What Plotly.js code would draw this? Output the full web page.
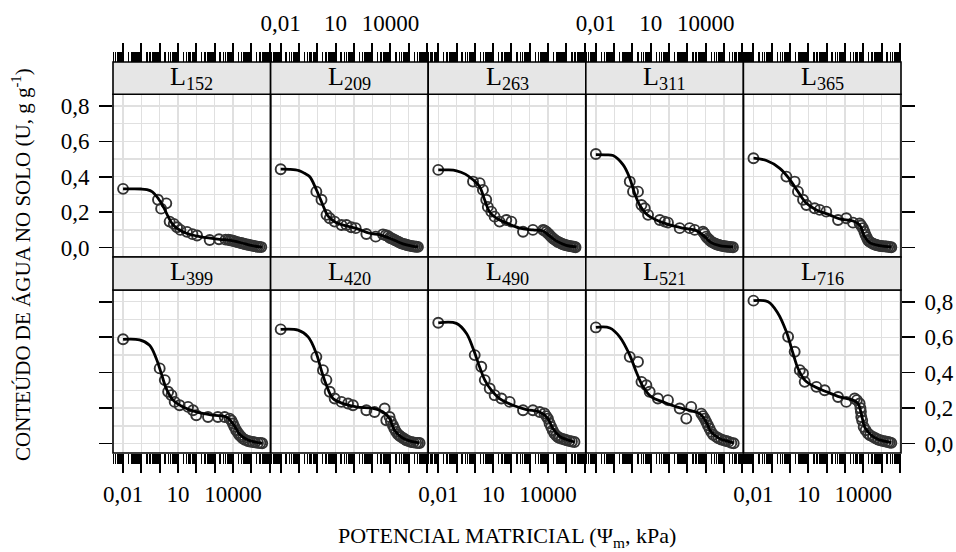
<!DOCTYPE html>
<html><head><meta charset="utf-8">
<script src="https://cdn.plot.ly/plotly-3.0.1.min.js"></script>
<style>body{margin:0;background:#fff}#chart{width:956px;height:552px}</style>
</head><body><div id="chart"></div>
<script>
// ---------- data (h in kPa, U in g g-1) ----------
const panelNames = ['152','209','263','311','365','399','420','490','521','716'];

const H1 = [0.01,0.81,2.3,1.2,3.5,5.9,8.9,13.5,31,62,110,540,1740,3980,5620,7080,8910,11200,14100,17800,22400,28200,35500,44700,56200,70800,89100,112000,141000,178000,224000,282000,355000];
const U1 = [0.332,0.27,0.25,0.22,0.147,0.134,0.115,0.10,0.089,0.076,0.068,0.043,0.047,0.045,0.044,0.042,0.040,0.037,0.034,0.031,0.028,0.026,0.023,0.020,0.018,0.016,0.013,0.011,0.009,0.007,0.005,0.004,0.003];
const CH1 = [0.01,0.0316,0.1,0.2,0.4,0.8,1.6,2.9,5.4,10,29,155,1900,5000,12000,31600,100000,316000,400000];
const CU1 = [0.332,0.332,0.331,0.327,0.315,0.28,0.23,0.175,0.128,0.105,0.081,0.062,0.047,0.044,0.037,0.026,0.012,0.004,0.003];

const H2 = [0.01,0.89,1.7,3.2,4.8,8.9,21,39,72,126,480,1550,3890,5500,7240,9100,11000,13800,17000,21000,25700,31600,38900,47900,58900,72400,89100,110000,138000,170000,209000,257000,316000];
const U2 = [0.443,0.316,0.27,0.185,0.166,0.147,0.128,0.128,0.115,0.11,0.077,0.062,0.075,0.07,0.066,0.056,0.053,0.048,0.043,0.038,0.034,0.029,0.024,0.021,0.019,0.016,0.013,0.011,0.009,0.007,0.006,0.005,0.004];
const CH2 = [0.01,0.0316,0.1,0.2,0.39,0.89,2.0,3.8,11,135,720,2570,9100,48000,150000,316000];
const CU2 = [0.443,0.442,0.435,0.42,0.40,0.327,0.241,0.179,0.141,0.109,0.081,0.072,0.053,0.021,0.009,0.004];

const H3 = [0.01,0.79,1.82,2.75,4.17,5.1,7.9,12,22.4,52,98,427,1480,5250,6300,7940,10000,12000,14500,18200,22400,28200,34700,42700,52500,64600,79400,97700,120000,148000,182000,224000,275000,316000];
const U3 = [0.439,0.373,0.364,0.326,0.27,0.23,0.203,0.175,0.147,0.156,0.147,0.09,0.10,0.10,0.097,0.09,0.08,0.072,0.062,0.053,0.045,0.038,0.032,0.028,0.023,0.019,0.016,0.013,0.011,0.009,0.007,0.006,0.004,0.002];
const CH3 = [0.01,0.0316,0.1,0.3,0.79,1.8,3.4,6.3,14.8,52,280,1480,5250,12000,28000,98000,350000];
const CU3 = [0.439,0.439,0.434,0.415,0.383,0.345,0.27,0.203,0.166,0.14,0.11,0.10,0.094,0.066,0.038,0.013,0.004];

const H4 = [0.01,0.71,1.07,2.0,3.1,4.7,7.1,31,57.5,87,380,1320,2510,7080,8500,10700,13000,16200,20000,25100,31600,38000,47000,57500,70800,87100,107000,132000,162000,200000,245000,309000];
const U4 = [0.529,0.373,0.316,0.316,0.241,0.222,0.185,0.156,0.147,0.141,0.11,0.11,0.10,0.09,0.08,0.062,0.052,0.043,0.034,0.028,0.023,0.019,0.016,0.013,0.011,0.009,0.008,0.006,0.005,0.004,0.003,0.002];
const CH4 = [0.01,0.0316,0.087,0.31,0.71,1.3,2.45,5.75,20,107,575,3090,8700,20000,57500,310000];
const CU4 = [0.525,0.524,0.52,0.467,0.392,0.307,0.241,0.19,0.156,0.128,0.11,0.096,0.062,0.028,0.011,0.004];

const H5 = [0.01,0.63,1.78,2.7,5.1,7.8,21.9,41.7,95,417,1170,2750,6310,7600,9550,11500,13200,15500,17800,21400,26900,33900,42700,51300,66100,81300,95500,120000,155000,178000,229000,288000,339000];
const U5 = [0.505,0.401,0.373,0.316,0.27,0.241,0.222,0.213,0.203,0.156,0.166,0.141,0.136,0.125,0.11,0.09,0.072,0.058,0.043,0.034,0.028,0.022,0.018,0.015,0.012,0.01,0.009,0.008,0.007,0.006,0.005,0.003,0.002];
const CH5 = [0.01,0.051,0.275,0.95,2.7,7.8,27.5,145,510,2750,6300,11700,22400,77600,340000];
const CU5 = [0.505,0.492,0.448,0.386,0.316,0.25,0.213,0.185,0.162,0.15,0.128,0.062,0.028,0.011,0.004];

const H6 = [0.01,1.0,1.9,2.9,4.4,6.6,12.3,35.5,66,100,437,1510,3550,6600,8300,10000,12000,15100,19000,23400,28800,35500,45700,66100,85000,123000,162000,234000,316000,398000];
const U6 = [0.588,0.424,0.358,0.292,0.273,0.235,0.216,0.207,0.188,0.16,0.15,0.15,0.15,0.141,0.13,0.113,0.095,0.075,0.06,0.047,0.038,0.028,0.022,0.015,0.012,0.009,0.007,0.004,0.003,0.002];
const CH6 = [0.01,0.079,0.28,0.65,1.23,2.3,5.4,19,100,810,4370,10000,23400,66000,400000];
const CU6 = [0.588,0.585,0.555,0.48,0.395,0.31,0.245,0.207,0.179,0.16,0.15,0.113,0.053,0.02,0.002];

const H7 = [0.01,0.89,2.04,3.16,4.8,8.9,20.9,47.9,89,479,1350,4790,5890,8900,10500,13500,16200,20400,25700,31600,38000,50100,60300,72400,97700,135000,180000,251000,316000,389000];
const U7 = [0.644,0.489,0.414,0.358,0.292,0.254,0.235,0.226,0.216,0.188,0.178,0.198,0.132,0.15,0.125,0.103,0.085,0.066,0.052,0.044,0.038,0.03,0.025,0.019,0.014,0.009,0.007,0.004,0.004,0.003];
const CH7 = [0.01,0.089,0.316,0.89,1.66,3.16,7.2,25.7,135,1100,3900,8900,16600,39000,110000,390000];
const CU7 = [0.644,0.64,0.602,0.508,0.414,0.329,0.254,0.226,0.207,0.198,0.178,0.141,0.075,0.037,0.015,0.004];

const H8 = [0.01,0.98,2.24,3.47,6.46,12,28.2,79.4,427,1480,3470,6310,7900,9800,12000,14800,17800,22400,28200,35500,42700,56200,79400,105000,148000,200000,275000];
const U8 = [0.681,0.499,0.433,0.358,0.311,0.273,0.254,0.235,0.188,0.188,0.178,0.17,0.155,0.141,0.115,0.094,0.075,0.056,0.045,0.036,0.032,0.027,0.023,0.019,0.015,0.012,0.009];
const CH8 = [0.01,0.098,0.35,0.79,1.8,3.5,7.9,22.4,120,650,3470,9800,18200,42700,98000,282000];
const CU8 = [0.681,0.678,0.621,0.537,0.433,0.358,0.301,0.254,0.216,0.192,0.178,0.141,0.085,0.041,0.023,0.009];

const H9 = [0.01,0.71,2.0,3.1,5.75,8.7,24.5,87,380,870,1620,5750,7100,8700,10700,13200,16200,20000,25700,38000,50100,70800,100000,132000,178000,251000,339000];
const U9 = [0.655,0.489,0.461,0.348,0.329,0.292,0.254,0.245,0.198,0.141,0.207,0.169,0.155,0.141,0.122,0.103,0.085,0.066,0.05,0.038,0.03,0.023,0.018,0.015,0.011,0.004,0.002];
const CH9 = [0.01,0.058,0.2,0.71,1.6,3.8,10.7,47,250,1320,4700,10700,20000,57500,162000,340000];
const CU9 = [0.655,0.652,0.602,0.499,0.405,0.32,0.263,0.235,0.207,0.188,0.169,0.122,0.066,0.028,0.013,0.004];

const H10 = [0.01,0.78,1.78,3.4,5.1,6.3,27.5,77.6,417,1170,3390,4470,6310,7000,7400,7760,8700,10500,13500,18200,23400,33900,46800,63100,85100,120000,166000,224000,275000,339000];
const U10 = [0.806,0.602,0.518,0.414,0.395,0.348,0.32,0.301,0.263,0.235,0.254,0.245,0.226,0.2,0.18,0.15,0.13,0.094,0.075,0.056,0.047,0.038,0.03,0.023,0.019,0.015,0.012,0.009,0.006,0.004];
const CH10 = [0.01,0.063,0.22,0.63,1.45,2.7,6.3,22.4,98,510,2750,5130,7760,11700,22400,63000,340000];
const CU10 = [0.806,0.80,0.734,0.63,0.508,0.424,0.358,0.32,0.292,0.263,0.245,0.226,0.169,0.094,0.056,0.024,0.006];

const xMajorVals = [0.01,0.1,1,10,100,1000,10000,100000,1000000];
const xMajorText = ['0,01','','','10','','','10000','',''];
const yTickVals = [0,0.2,0.4,0.6,0.8];
const yTickText = ['0,0','0,2','0,4','0,6','0,8'];

const Hs = [H1,H2,H3,H4,H5,H6,H7,H8,H9,H10];
const Us = [U1,U2,U3,U4,U5,U6,U7,U8,U9,U10];
const CHs = [CH1,CH2,CH3,CH4,CH5,CH6,CH7,CH8,CH9,CH10];
const CUs = [CU1,CU2,CU3,CU4,CU5,CU6,CU7,CU8,CU9,CU10];

// ---------- layout geometry ----------
const FONT = '"Liberation Serif", "Times New Roman", serif';
const rowPanel = [[0.5013, 0.9174], [0, 0.4169]];
const rowStrip = [[0.9174, 1.0], [0.4169, 0.5013]];
const xRange = [-2.55, 6.06];
const yRange = [-0.053, 0.866];
const minorVals = [];
[0.001,0.01,0.1,1,10,100,1000,10000,100000].forEach(d => { for (let k = 2; k <= 9; k++) minorVals.push(d * k); });

const traces = [];
const layout = {
  width: 956, height: 552,
  margin: {l: 113, r: 55, t: 62, b: 99, pad: 0},
  paper_bgcolor: '#fff', plot_bgcolor: '#fff',
  showlegend: false,
  font: {family: FONT, color: '#000', size: 18},
  shapes: [], annotations: []
};

for (let i = 0; i < 10; i++) {
  const row = i < 5 ? 0 : 1;
  const col = i % 5;
  const n = i + 1;
  const xa = 'x' + (n === 1 ? '' : n), ya = 'y' + (n === 1 ? '' : n);
  const xk = 'xaxis' + (n === 1 ? '' : n), yk = 'yaxis' + (n === 1 ? '' : n);
  const xd = [col * 0.2, (col + 1) * 0.2];

  traces.push({
    type: 'scatter', mode: 'markers', x: Hs[i], y: Us[i], xaxis: xa, yaxis: ya,
    marker: {symbol: 'circle-open', size: 10, color: '#333', line: {width: 1.9, color: '#333'}},
    hoverinfo: 'skip'
  });
  traces.push({
    type: 'scatter', mode: 'lines', x: CHs[i], y: CUs[i], xaxis: xa, yaxis: ya,
    line: {color: '#000', width: 2.8, shape: 'spline', smoothing: 1},
    hoverinfo: 'skip'
  });

  const showXLabels = row === 0 ? (col === 1 || col === 3) : (col % 2 === 0);
  const xax = {
    type: 'log', range: xRange, domain: xd,
    side: row === 0 ? 'top' : 'bottom',
    showline: false, zeroline: false,
    showgrid: true, gridcolor: '#e0e0e0', gridwidth: 1.3,
    tickmode: 'array', tickvals: xMajorVals, ticktext: xMajorText,
    ticks: 'outside', ticklen: 19, tickwidth: 2, tickcolor: '#000',
    showticklabels: showXLabels, ticklabelstandoff: row === 0 ? 3 : 1,
    tickfont: {family: FONT, size: 23, color: '#000'},
    minor: {tickmode: 'array', tickvals: minorVals, ticks: 'outside', ticklen: 10, tickwidth: 1.4, tickcolor: '#000', showgrid: false},
    fixedrange: true
  };
  if (row === 0) { xax.anchor = 'free'; xax.position = 1; } else { xax.anchor = ya; }
  layout[xk] = xax;

  const leftTicks = col === 0, rightTicks = col === 4;
  const showYLabels = (row === 0 && col === 0) || (row === 1 && col === 4);
  layout[yk] = {
    range: yRange, domain: rowPanel[row], anchor: xa,
    side: rightTicks ? 'right' : 'left',
    showline: false, zeroline: false,
    showgrid: true, gridcolor: '#e0e0e0', gridwidth: 1.3,
    tickmode: 'array', tickvals: yTickVals, ticktext: yTickText,
    ticks: (leftTicks || rightTicks) ? 'outside' : '', ticklen: 13, tickwidth: 1.6, tickcolor: '#000',
    showticklabels: showYLabels, ticklabelstandoff: 5,
    tickfont: {family: FONT, size: 23, color: '#000'},
    minor: {dtick: 0.1, tick0: 0, showgrid: true, gridcolor: '#e0e0e0', gridwidth: 1.3, ticks: ''},
    fixedrange: true
  };

  // panel border
  layout.shapes.push({type: 'rect', xref: 'paper', yref: 'paper', x0: xd[0], x1: xd[1], y0: rowPanel[row][0], y1: rowPanel[row][1],
    line: {color: '#000', width: 1.6}, fillcolor: 'rgba(0,0,0,0)', layer: 'above'});
  // strip
  layout.shapes.push({type: 'rect', xref: 'paper', yref: 'paper', x0: xd[0], x1: xd[1], y0: rowStrip[row][0], y1: rowStrip[row][1],
    line: {color: '#000', width: 1.6}, fillcolor: '#e6e6e6', layer: 'above'});
  layout.annotations.push({xref: 'paper', yref: 'paper', x: (xd[0] + xd[1]) / 2, y: (rowStrip[row][0] + rowStrip[row][1]) / 2,
    xanchor: 'center', yanchor: 'middle', showarrow: false,
    text: 'L<sub>' + panelNames[i] + '</sub>', font: {family: FONT, size: 26, color: '#000'}});
}

layout.annotations.push({xref: 'paper', yref: 'paper', x: 0, y: 0.481, xshift: -91, xanchor: 'center', yanchor: 'middle',
  textangle: -90, showarrow: false, text: 'CONTEÚDO DE ÁGUA NO SOLO (U, g g<sup>-1</sup>)',
  font: {family: FONT, size: 21, color: '#000'}});
layout.annotations.push({xref: 'paper', yref: 'paper', x: 0.5, y: 0, yshift: -84, xanchor: 'center', yanchor: 'middle',
  showarrow: false, text: 'POTENCIAL MATRICIAL (Ψ<sub>m</sub>, kPa)',
  font: {family: FONT, size: 22, color: '#000'}});

Plotly.newPlot('chart', traces, layout, {staticPlot: true, displayModeBar: false});
</script>
</body></html>
